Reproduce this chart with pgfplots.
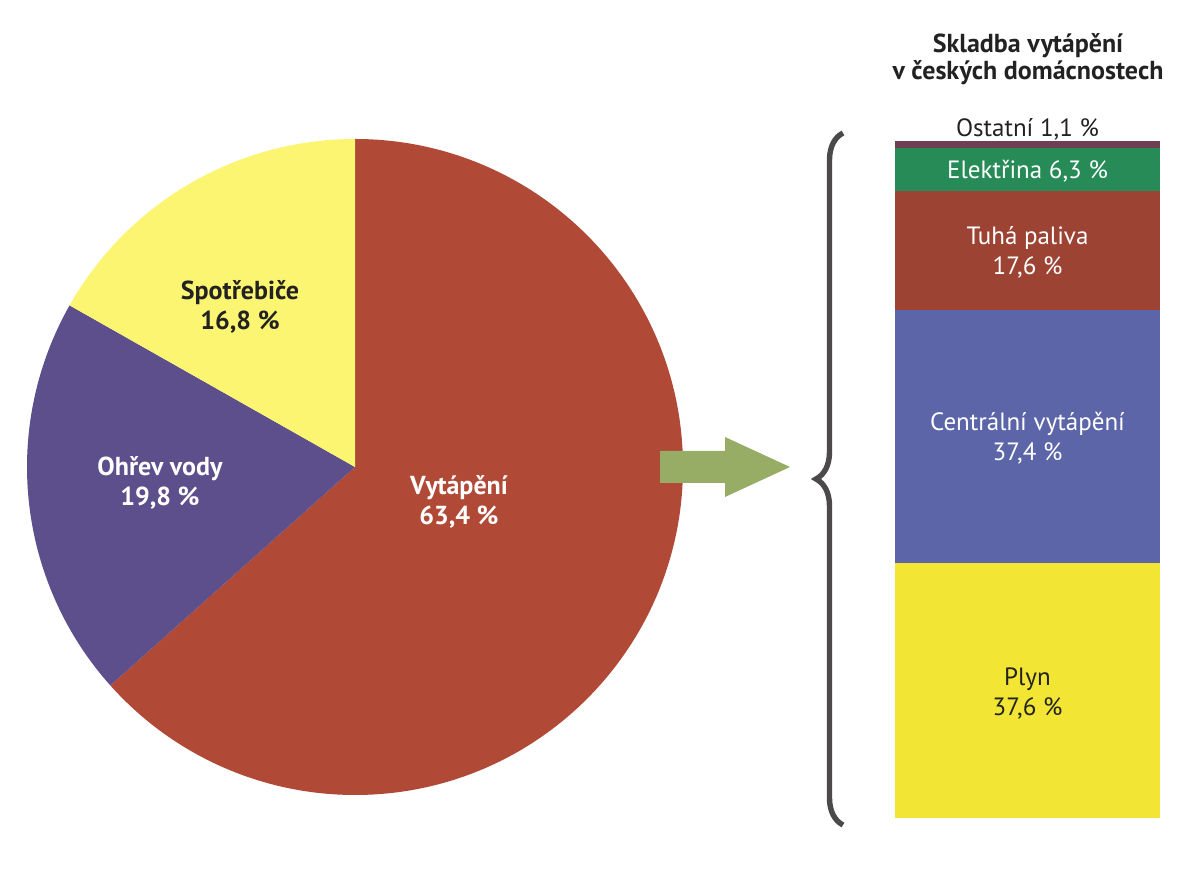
\documentclass[border=0pt]{standalone}
\usepackage{pgfplots}
\pgfplotsset{compat=1.18}
\usepackage{fontspec}
\setmainfont{PT Sans}
\usetikzlibrary{decorations.pathreplacing}

% barvy
\definecolor{cVyt}{HTML}{B04936}
\definecolor{cOhr}{HTML}{5C4F8B}
\definecolor{cSpo}{HTML}{FBF571}
\definecolor{cPlyn}{HTML}{F2E534}
\definecolor{cCen}{HTML}{5C65A7}
\definecolor{cTuh}{HTML}{9C4334}
\definecolor{cEle}{HTML}{268B57}
\definecolor{cOst}{HTML}{6E3E52}
\definecolor{cArr}{HTML}{97AD66}
\definecolor{cBrace}{HTML}{4B4949}
\definecolor{cTxt}{HTML}{222222}

% podil spotreby energie v domacnosti (%)
\def\pVyt{63.4}
\def\pOhr{19.8}
\def\pSpo{16.8}

\tikzset{
	lblB/.style={font=\bfseries\fontsize{13pt}{15pt}\selectfont, align=center},
	lbl/.style={font=\fontsize{12.5pt}{15pt}\selectfont, align=center},
}
\pgfplotsset{
	barbox/.style={
		at={(513.75pt,26.5pt)}, anchor=origin,
		x=1pt, y=3.385pt,
		xmin=-1, xmax=1, ymin=0, ymax=100,
		hide axis, clip=false,
	},
}

\begin{document}
\begin{tikzpicture}
\useasboundingbox (0,0) rectangle (600pt,435.5pt);

% kolac (1 jednotka = 1 px)
\begin{axis}[
	at={(0,0)}, anchor=origin,
	x=0.5pt, y=0.5pt,
	xmin=0, xmax=1200, ymin=0, ymax=871,
	hide axis, clip=false,
	]
	\fill[cVyt] (axis cs:355,404) -- ++(90:164pt)
		arc[start angle=90, delta angle={-3.6*\pVyt}, radius=164pt] -- cycle;
	\fill[cOhr] (axis cs:355,404) -- ++({90-3.6*\pVyt}:164pt)
		arc[start angle={90-3.6*\pVyt}, delta angle={-3.6*\pOhr}, radius=164pt] -- cycle;
	\fill[cSpo] (axis cs:355,404) -- ++({90-3.6*(\pVyt+\pOhr)}:164pt)
		arc[start angle={90-3.6*(\pVyt+\pOhr)}, delta angle={-3.6*\pSpo}, radius=164pt] -- cycle;

	\node[lblB, text=cTxt] at (axis cs:240,564) {Spotřebiče\\16,8~\%};
	\node[lblB, text=white] at (axis cs:160,388) {Ohřev vody\\19,8~\%};
	\node[lblB, text=white] at (axis cs:459,369) {Vytápění\\63,4~\%};

	% sipka
	\fill[cArr] (axis cs:660,420) -- (axis cs:725,420) -- (axis cs:725,434)
		-- (axis cs:790,404) -- (axis cs:725,374) -- (axis cs:725,388)
		-- (axis cs:660,388) -- cycle;

	% slozena zavorka
	\draw[cBrace, line width=2.7pt, decorate, decoration={brace, amplitude=13.5pt}]
		(axis cs:843,46) -- (axis cs:843,738);

	% nadpis
	\node[font=\bfseries\fontsize{13pt}{13.5pt}\selectfont, text=cTxt, align=center]
		at (axis cs:1028,812) {Skladba vytápění\\v českých domácnostech};
\end{axis}

% skladba vytapeni
\begin{axis}[barbox, ybar stacked, bar width=132.5pt]
	\addplot[fill=cPlyn, draw=none] coordinates {(0,37.6)};
	\addplot[fill=cCen, draw=none] coordinates {(0,37.4)};
	\addplot[fill=cTuh, draw=none] coordinates {(0,17.6)};
	\addplot[fill=cEle, draw=none] coordinates {(0,6.3)};
	\addplot[fill=cOst, draw=none] coordinates {(0,1.1)};
\end{axis}

% popisky sloupce
\begin{axis}[barbox]
	\node[lbl, text=cTxt] at (axis cs:0,18.4) {Plyn\\37,6~\%};
	\node[lbl, text=white] at (axis cs:0,56.1) {Centrální vytápění\\37,4~\%};
	\node[lbl, text=white] at (axis cs:0,83.5) {Tuhá paliva\\17,6~\%};
	\node[lbl, text=white] at (axis cs:0,95.5) {Elektřina 6,3~\%};
	\node[lbl, text=cTxt] at (axis cs:0,101.7) {Ostatní 1,1~\%};
\end{axis}
\end{tikzpicture}
\end{document}
